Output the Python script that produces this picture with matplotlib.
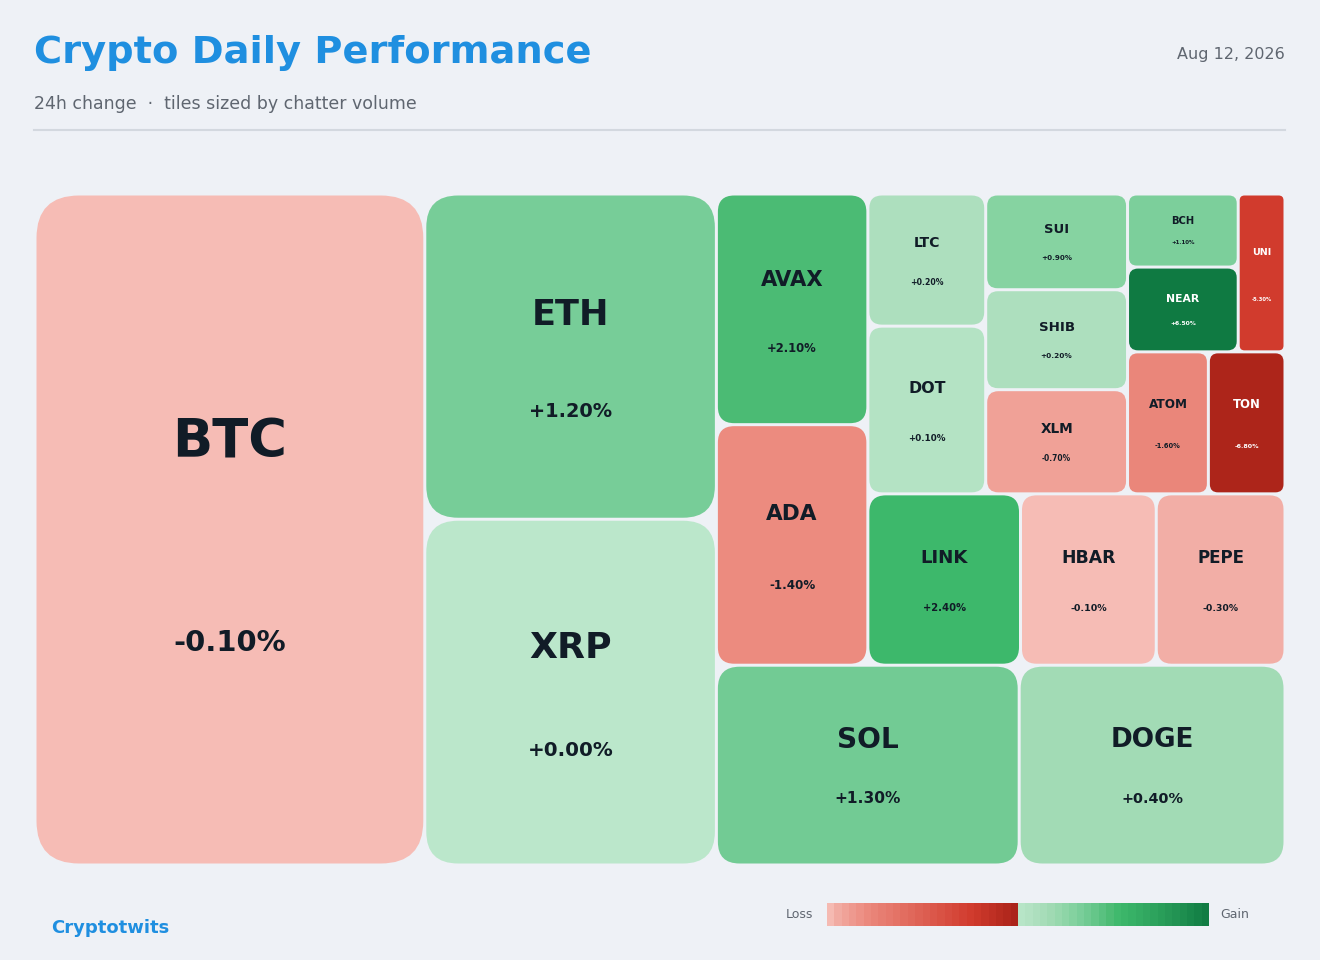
import numpy as np
import matplotlib.pyplot as plt
from matplotlib.patches import FancyBboxPatch, Rectangle

# data: coin, 24h change (%), chatter volume (k mentions)
coins = ["BTC", "ETH", "XRP", "AVAX", "ADA", "LTC", "DOT", "SUI", "SHIB", "XLM",
         "BCH", "NEAR", "UNI", "ATOM", "TON", "LINK", "HBAR", "PEPE", "SOL", "DOGE"]
change = [-0.10, 1.20, 0.00, 2.10, -1.40, 0.20, 0.10, 0.90, 0.20, -0.70,
          1.10, 6.50, -5.30, -1.60, -6.80, 2.40, -0.10, -0.30, 1.30, 0.40]
volume = [262, 95, 101, 35, 36.5, 15.6, 19.8, 13.6, 14.2, 14.8,
          8.1, 9.4, 7.4, 11.5, 10.9, 26.2, 23.3, 22.1, 60.6, 53.2]
vol = dict(zip(coins, volume))
chg = dict(zip(coins, change))

# slice/dice nesting ("h" = side by side, "v" = stacked)
tree = ("h", ["BTC", ("v", ["ETH", "XRP"]),
              ("v", [("h", [("v", ["AVAX", "ADA"]),
                            ("v", [("h", [("v", ["LTC", "DOT"]),
                                          ("v", ["SUI", "SHIB", "XLM"]),
                                          ("v", [("h", [("v", ["BCH", "NEAR"]), "UNI"]),
                                                 ("h", ["ATOM", "TON"])])]),
                                   ("h", ["LINK", "HBAR", "PEPE"])])]),
                     ("h", ["SOL", "DOGE"])])])

def total(n):
    return vol[n] if isinstance(n, str) else sum(total(c) for c in n[1])

rects = {}
def layout(n, x, y, w, h):
    if isinstance(n, str):
        rects[n] = (x, y, w, h)
        return
    d, kids = n
    s = total(n)
    for k in kids:
        f = total(k) / s
        if d == "h":
            layout(k, x, y, w * f, h)
            x += w * f
        else:
            layout(k, x, y, w, h * f)
            y += h * f

# colour scale
loss_v = [0, -0.1, -0.3, -0.7, -1.5, -5.3, -7]
loss_c = ["#fdf0ee", "#f6bcb5", "#f2aea6", "#f0a197", "#eb887c", "#d13b2d", "#a82218"]
gain_v = [0, 0.2, 0.4, 0.9, 1.2, 2.1, 2.4, 6.5]
gain_c = ["#bbe7cb", "#addfbe", "#a2dbb5", "#86d3a1", "#77cd98", "#4bbb74", "#3db86b", "#0f7a42"]

def hex2rgb(c):
    return np.array([int(c[i:i + 2], 16) / 255 for i in (1, 3, 5)])

def color(v):
    if v < 0:
        xs, cs = loss_v[::-1], loss_c[::-1]
    else:
        xs, cs = gain_v, gain_c
    arr = np.array([hex2rgb(c) for c in cs])
    return tuple(np.interp(v, xs, arr[:, i]) for i in range(3))

bg = "#eef1f6"
fig = plt.figure(figsize=(13.2, 9.6), dpi=100, facecolor=bg)
ax = fig.add_axes([0, 0, 1, 1])
ax.set_xlim(0, 1320)
ax.set_ylim(960, 0)
ax.axis("off")

ax.text(34, 53, "Crypto Daily Performance", color="#1f8fe0", fontsize=27.6,
        fontweight="bold", va="center")
ax.text(34, 104, "24h change  ·  tiles sized by chatter volume", color="#5f6670",
        fontsize=12.5, va="center")
ax.text(1285, 54, "Aug 12, 2026", color="#5f6670", fontsize=11.5, va="center", ha="right")
ax.plot([34, 1285], [130, 130], color="#d3d8df", lw=1.5)

layout(tree, 35, 194, 1250, 671)
g = 1.5
for c in coins:
    x, y, w, h = rects[c]
    x, y, w, h = x + g, y + g, w - 2 * g, h - 2 * g
    r = min(w, h) * 0.11
    ax.add_patch(FancyBboxPatch((x, y), w, h, boxstyle=f"round,pad=0,rounding_size={r}",
                                fc=color(chg[c]), ec="none"))
    tc = "white" if abs(chg[c]) > 3 else "#111c27"
    fs = min(0.083 * np.sqrt(w * h), 38)
    cx, cy = x + w / 2, y + h / 2
    ax.text(cx, cy - 0.13 * h, c, ha="center", va="center", fontsize=fs,
            fontweight="bold", color=tc)
    ax.text(cx, cy + 0.17 * h, f"{chg[c]:+.2f}%", ha="center", va="center",
            fontsize=fs * 0.55, fontweight="bold", color=tc)

# legend bar
n = 26
xs = np.linspace(827, 1018, n + 1)
for i in range(n):
    v = -7 * (i + 0.5) / n
    ax.add_patch(Rectangle((xs[i], 903), xs[1] - xs[0] + 0.3, 23, fc=color(v), ec="none"))
xs = np.linspace(1018, 1209, n + 1)
for i in range(n):
    v = 0.05 + 6.5 * ((i + 0.5) / n) ** 1.6
    ax.add_patch(Rectangle((xs[i], 903), xs[1] - xs[0] + 0.3, 23, fc=color(v), ec="none"))
ax.text(813, 914, "Loss", ha="right", va="center", fontsize=9, color="#5f6670")
ax.text(1220, 914, "Gain", ha="left", va="center", fontsize=9, color="#5f6670")
ax.text(51, 928, "Cryptotwits", color="#1f8fe0", fontsize=13, fontweight="bold", va="center")

fig.savefig("out.png", dpi=100, facecolor=bg)
